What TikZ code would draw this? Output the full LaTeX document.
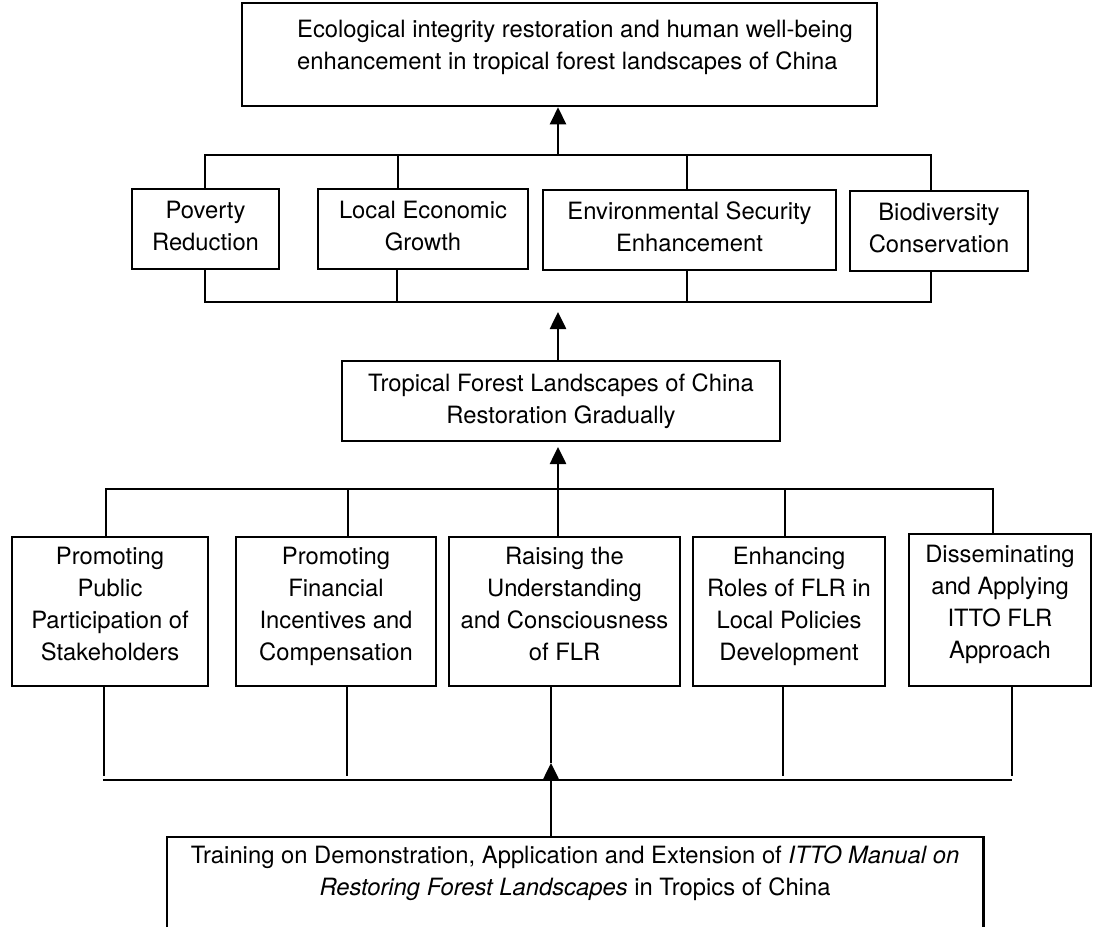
\documentclass[tikz,border=0pt]{standalone}
\usepackage{fontspec}
\setmainfont{TeX Gyre Heros}
\usetikzlibrary{arrows.meta}
\newcommand{\diagfont}{\fontsize{23.8}{32}\selectfont}
\begin{document}
\begin{tikzpicture}[x=1pt,y=-1pt,
  wire/.style={line width=2.6pt},
  arr/.style={wire,-{Triangle[length=17pt,width=16pt]}},
  box/.style={draw,line width=2.6pt,inner sep=0pt,align=center,font=\diagfont},
  twoline/.style={box,minimum height=80pt,text depth=6pt},
  fourline/.style={box,minimum height=149pt,text depth=16pt},
  txt/.style={inner sep=0pt,font=\diagfont}]
\useasboundingbox (0,0) rectangle (1093,927);
\fill[white] (0,0) rectangle (1093,927);

% goal
\node[box,minimum width=635pt,minimum height=103pt] (goal) at (559.5,54.5) {};
\node[txt,anchor=west,align=left] (goaltext) at (297,47)
  {Ecological integrity restoration and human well-being\\
   enhancement in tropical forest landscapes of China};

% outcomes
\node[twoline,minimum width=147pt] (pov)  at (205.5,229) {Poverty\\Reduction};
\node[twoline,minimum width=210pt] (econ) at (423,229)   {Local Economic\\Growth};
\node[twoline,minimum width=293pt] (env)  at (689.5,230) {Environmental Security\\Enhancement};
\node[twoline,minimum width=178pt] (bio)  at (939,231)   {Biodiversity\\Conservation};

\coordinate (ua) at (205,155);
\coordinate (ub) at (398,155);
\coordinate (uc) at (687,155);
\coordinate (ud) at (931,155);
\coordinate (um) at (558,155);
\draw[wire] (ua |- pov.north) -- (ua) -- (ud) -- (ud |- bio.north);
\draw[wire] (ub) -- (ub |- econ.north);
\draw[wire] (uc) -- (uc |- env.north);
\draw[arr] (um) -- (um |- goal.south);

\coordinate (la) at (205,302);
\coordinate (lb) at (397,302);
\coordinate (lc) at (687,302);
\coordinate (ld) at (931,302);
\draw[wire] (la |- pov.south) -- (la) -- (ld) -- (ld |- bio.south);
\draw[wire] (lb |- econ.south) -- (lb);
\draw[wire] (lc |- env.south) -- (lc);

% restoration
\node[twoline,minimum width=438pt,text depth=5pt] (trop) at (561,401)
  {Tropical Forest Landscapes of China\\Restoration Gradually};
\coordinate (lm) at (558,312);
\draw[arr] (lm |- trop.north) -- (lm);

% activities
\node[fourline,minimum width=196pt] (pub)  at (110,611.5)   {Promoting\\Public\\Participation of\\Stakeholders};
\node[fourline,minimum width=200pt] (fin)  at (336,611.5)   {Promoting\\Financial\\Incentives and\\Compensation};
\node[fourline,minimum width=231pt] (rais) at (564.5,611.5) {Raising the\\Understanding\\and Consciousness\\of FLR};
\node[fourline,minimum width=192pt] (pol)  at (789,611.5)   {Enhancing\\Roles of FLR in\\Local Policies\\Development};
\node[fourline,minimum width=182pt,minimum height=152pt] (itto) at (1000,610) {Disseminating\\and Applying\\ITTO FLR\\Approach};

\coordinate (ta) at (106,489);
\coordinate (tb) at (348,489);
\coordinate (tc) at (785,489);
\coordinate (td) at (993,489);
\draw[wire] (ta |- pub.north) -- (ta) -- (td) -- (td |- itto.north);
\draw[wire] (tb) -- (tb |- fin.north);
\draw[wire] (tc) -- (tc |- pol.north);
\coordinate (tm) at (558,447);
\draw[arr] (tm |- rais.north) -- (tm);

% feeders below the activities
\coordinate (va) at (104,776);
\coordinate (vb) at (347,776);
\coordinate (vc) at (783,776);
\coordinate (vd) at (1012,776);
\draw[wire] (pub.south -| va) -- (va);
\draw[wire] (fin.south -| vb) -- (vb);
\draw[wire] (pol.south -| vc) -- (vc);
\draw[wire] (itto.south -| vd) -- (vd);
\coordinate (bl) at (103,780);
\coordinate (br) at (1012,780);
\draw[wire] (bl) -- (br);

% training
\node[inner sep=0pt,minimum width=816pt,minimum height=90pt] (train) at (575,882) {};
\draw[wire] (train.south west) |- (train.north east) -- (train.south east);
\node[txt,align=center] (traintext) at (575,873)
  {Training on Demonstration, Application and Extension of \textit{ITTO Manual on}\\
   \textit{Restoring Forest Landscapes} in Tropics of China};
\coordinate (ja) at (551,763);
\draw[wire] (ja) -- (ja |- rais.south);
\draw[arr] (ja |- train.north) -- (ja);
\end{tikzpicture}
\end{document}
